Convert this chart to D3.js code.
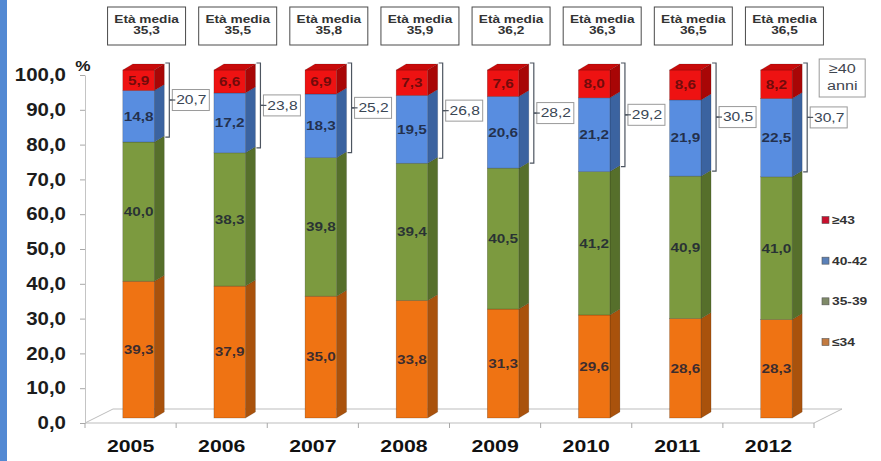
<!DOCTYPE html>
<html>
<head>
<meta charset="utf-8">
<script src="https://cdn.jsdelivr.net/npm/d3@7/dist/d3.min.js"></script>
<style>
  html, body { margin: 0; padding: 0; background: #fff; }
  svg { display: block; font-family: "Liberation Sans", Arial, sans-serif; }
</style>
</head>
<body>
<svg id="chart" width="881" height="461"></svg>
<script>
// Age classes of the population, share (%) per year
const years = ["2005", "2006", "2007", "2008", "2009", "2010", "2011", "2012"];
const seriesNames = ["≤34", "35-39", "40-42", "≥43"];
const le34 = [39.3, 37.9, 35.0, 33.8, 31.3, 29.6, 28.6, 28.3];
const a35_39 = [40.0, 38.3, 39.8, 39.4, 40.5, 41.2, 40.9, 41.0];
const a40_42 = [14.8, 17.2, 18.3, 19.5, 20.6, 21.2, 21.9, 22.5];
const ge43 = [5.9, 6.6, 6.9, 7.3, 7.6, 8.0, 8.6, 8.2];
const over40 = [20.7, 23.8, 25.2, 26.8, 28.2, 29.2, 30.5, 30.7];
const etaMedia = [35.3, 35.5, 35.8, 35.9, 36.2, 36.3, 36.5, 36.5];
const yTicks = [0, 10, 20, 30, 40, 50, 60, 70, 80, 90, 100];

const seriesValues = [le34, a35_39, a40_42, ge43];
const frontColors = ["#ef7313", "#7c9a3f", "#588de0", "#ee1212"];
const sideColors  = ["#a9520c", "#566f2b", "#3b63a0", "#a80606"];
const topColors   = ["#d5620c", "#6a8634", "#4a7cc8", "#c80a0a"];
const legendColors = ["#c27a40", "#7f8a68", "#5a80b8", "#c8102e"];

const fmt = v => d3.format(".1f")(v).replace(".", ",");
const svg = d3.select("#chart");

// left accent strip
svg.append("rect").attr("x", 0).attr("y", 0).attr("width", 7).attr("height", 461).attr("fill", "#5389d3");

// scales
const x = d3.scaleBand().domain(years).range([85, 814]);
const yAx = d3.scaleLinear().domain([0, 100]).range([423, 75]);
const depthX = 10, depthY = 6, liftY = 5;        // 3D extrusion
const yBar = v => yAx(v) - liftY;
const barW = 31.5;
const barCenter = yr => x(yr) + x.bandwidth() / 2 + 8;
const stretch = (sx) => `scale(${sx},1)`;

// floor of the 3D plot area
const fl = [[85, 423], [814, 423], [842, 409], [113, 409]];
svg.append("path").attr("d", "M" + fl.join("L") + "Z")
  .attr("fill", "#fff").attr("stroke", "#bdbdbd").attr("stroke-width", 1);

// value axis
const yAxisG = svg.append("g").attr("transform", "translate(85,0)")
  .call(d3.axisLeft(yAx).tickValues(yTicks).tickSize(5).tickSizeOuter(0).tickFormat(fmt));
yAxisG.select(".domain").attr("stroke", "#c4c4c4");
yAxisG.selectAll(".tick line").attr("stroke", "#a8a8a8");
yAxisG.selectAll(".tick text")
  .attr("x", 0).attr("dy", "0.32em")
  .attr("transform", "translate(-19,0) " + stretch(1.17))
  .attr("font-size", 17.5).attr("font-weight", "bold").attr("fill", "#1c1c1c")
  .attr("font-family", "Liberation Sans, Arial, sans-serif");

svg.append("text").attr("x", 0).attr("y", 0)
  .attr("transform", "translate(83,71) " + stretch(1.15))
  .attr("text-anchor", "middle").attr("font-size", 15).attr("font-weight", "bold")
  .attr("fill", "#1c1c1c").text("%");

// category axis: boundary ticks and year labels
const bounds = years.map(yr => x(yr)).concat([x.range()[1]]);
svg.append("g").selectAll("line").data(bounds).join("line")
  .attr("x1", d => d).attr("x2", d => d).attr("y1", 423).attr("y2", 428)
  .attr("stroke", "#a8a8a8");
svg.append("g").selectAll("text").data(years).join("text")
  .attr("transform", d => `translate(${x(d) + x.bandwidth() / 2},451.5) ${stretch(1.25)}`)
  .attr("text-anchor", "middle").attr("font-size", 17).attr("font-weight", "bold")
  .attr("fill", "#111").text(d => d);

// stacked 3D bars
const barsG = svg.append("g");
years.forEach((yr, i) => {
  const cx = barCenter(yr);
  const x0 = cx - barW / 2, x1 = cx + barW / 2;
  let acc = 0;
  seriesValues.forEach((vals, s) => {
    const v = vals[i];
    const yb = yBar(acc), yt = yBar(acc + v);
    const g = barsG.append("g");
    g.append("path")
      .attr("d", `M${x1},${yt}L${x1 + depthX},${yt - depthY}L${x1 + depthX},${yb - depthY}L${x1},${yb}Z`)
      .attr("fill", sideColors[s]).attr("stroke", "rgba(0,0,0,0.25)").attr("stroke-width", 0.5);
    g.append("rect").attr("x", x0).attr("y", yt).attr("width", barW).attr("height", yb - yt)
      .attr("fill", frontColors[s]).attr("stroke", "rgba(0,0,0,0.3)").attr("stroke-width", 0.6);
    if (s === seriesValues.length - 1) {
      g.append("path")
        .attr("d", `M${x0},${yt}L${x0 + depthX},${yt - depthY}L${x1 + depthX},${yt - depthY}L${x1},${yt}Z`)
        .attr("fill", topColors[s]).attr("stroke", "rgba(0,0,0,0.25)").attr("stroke-width", 0.5);
    }
    g.append("text")
      .attr("transform", `translate(${cx},${(yt + yb) / 2}) ${stretch(1.28)}`)
      .attr("dy", "0.36em").attr("text-anchor", "middle")
      .attr("font-size", 12).attr("font-weight", "bold")
      .attr("fill", s === 3 ? "#5a0a0a" : "#1a1f33").attr("fill-opacity", 0.85)
      .text(fmt(v));
    acc += v;
  });

  // bracket for the ≥40 share
  const bx = x1 + depthX + 5;
  const top = yBar(100) - depthY - 1;
  const bottom = yBar(le34[i] + a35_39[i]) - 5;
  const mid = (top + bottom) / 2;
  barsG.append("path")
    .attr("d", `M${bx - 4},${top}H${bx}V${bottom}H${bx - 4}M${bx},${mid}H${bx + 5}`)
    .attr("fill", "none").attr("stroke", "#4d5560").attr("stroke-width", 1.2);
  barsG.append("rect").attr("x", bx + 3).attr("y", mid - 10.5).attr("width", 37).attr("height", 21)
    .attr("fill", "#fff").attr("stroke", "#9a9a9a").attr("stroke-width", 1);
  barsG.append("path").attr("d", `M${bx},${mid}H${bx + 6}`).attr("stroke", "#4d5560").attr("stroke-width", 1.2);
  barsG.append("text")
    .attr("transform", `translate(${bx + 22},${mid}) ${stretch(1.3)}`)
    .attr("dy", "0.36em").attr("text-anchor", "middle")
    .attr("font-size", 12).attr("fill", "#3a4654").text(fmt(over40[i]));

  // mean age box
  const bc = cx + 8;
  svg.append("rect").attr("x", bc - 39).attr("y", 7).attr("width", 78).attr("height", 38)
    .attr("fill", "#fff").attr("stroke", "#4a4a4a").attr("stroke-width", 1);
  svg.append("text").attr("transform", `translate(${bc},22.7) ${stretch(1.28)}`)
    .attr("text-anchor", "middle").attr("font-size", 10.7).attr("font-weight", "bold")
    .attr("fill", "#333").text("Età media");
  svg.append("text").attr("transform", `translate(${bc},33.5) ${stretch(1.28)}`)
    .attr("text-anchor", "middle").attr("font-size", 10.7).attr("font-weight", "bold")
    .attr("fill", "#333").text(fmt(etaMedia[i]));
});

// "≥40 anni" caption beside the last bracket
const lastBx = barCenter(years[years.length - 1]) + barW / 2 + depthX + 5;
svg.append("rect").attr("x", lastBx + 12).attr("y", 59).attr("width", 46).attr("height", 38)
  .attr("fill", "#fff").attr("stroke", "#9a9a9a");
svg.append("text").attr("transform", `translate(${lastBx + 35},73.3) ${stretch(1.2)}`)
  .attr("text-anchor", "middle").attr("font-size", 13.5).attr("fill", "#3f4650").text("≥40");
svg.append("text").attr("transform", `translate(${lastBx + 35},90) ${stretch(1.2)}`)
  .attr("text-anchor", "middle").attr("font-size", 13.5).attr("fill", "#3f4650").text("anni");

// legend, top to bottom from the oldest class
const legendOrder = [3, 2, 1, 0];
const ly = d3.scalePoint().domain(legendOrder).range([220, 342]);
const lg = svg.append("g").selectAll("g").data(legendOrder).join("g")
  .attr("transform", d => `translate(822,${ly(d)})`);
lg.append("rect").attr("x", 0).attr("y", -3.5).attr("width", 7).attr("height", 7)
  .attr("fill", d => legendColors[d]).attr("stroke", "#555").attr("stroke-width", 0.6);
lg.append("text").attr("transform", `translate(10,0) ${stretch(1.2)}`)
  .attr("dy", "0.36em").attr("font-size", 11.5).attr("font-weight", "bold")
  .attr("fill", "#333").text(d => seriesNames[d]);
</script>
</body>
</html>
